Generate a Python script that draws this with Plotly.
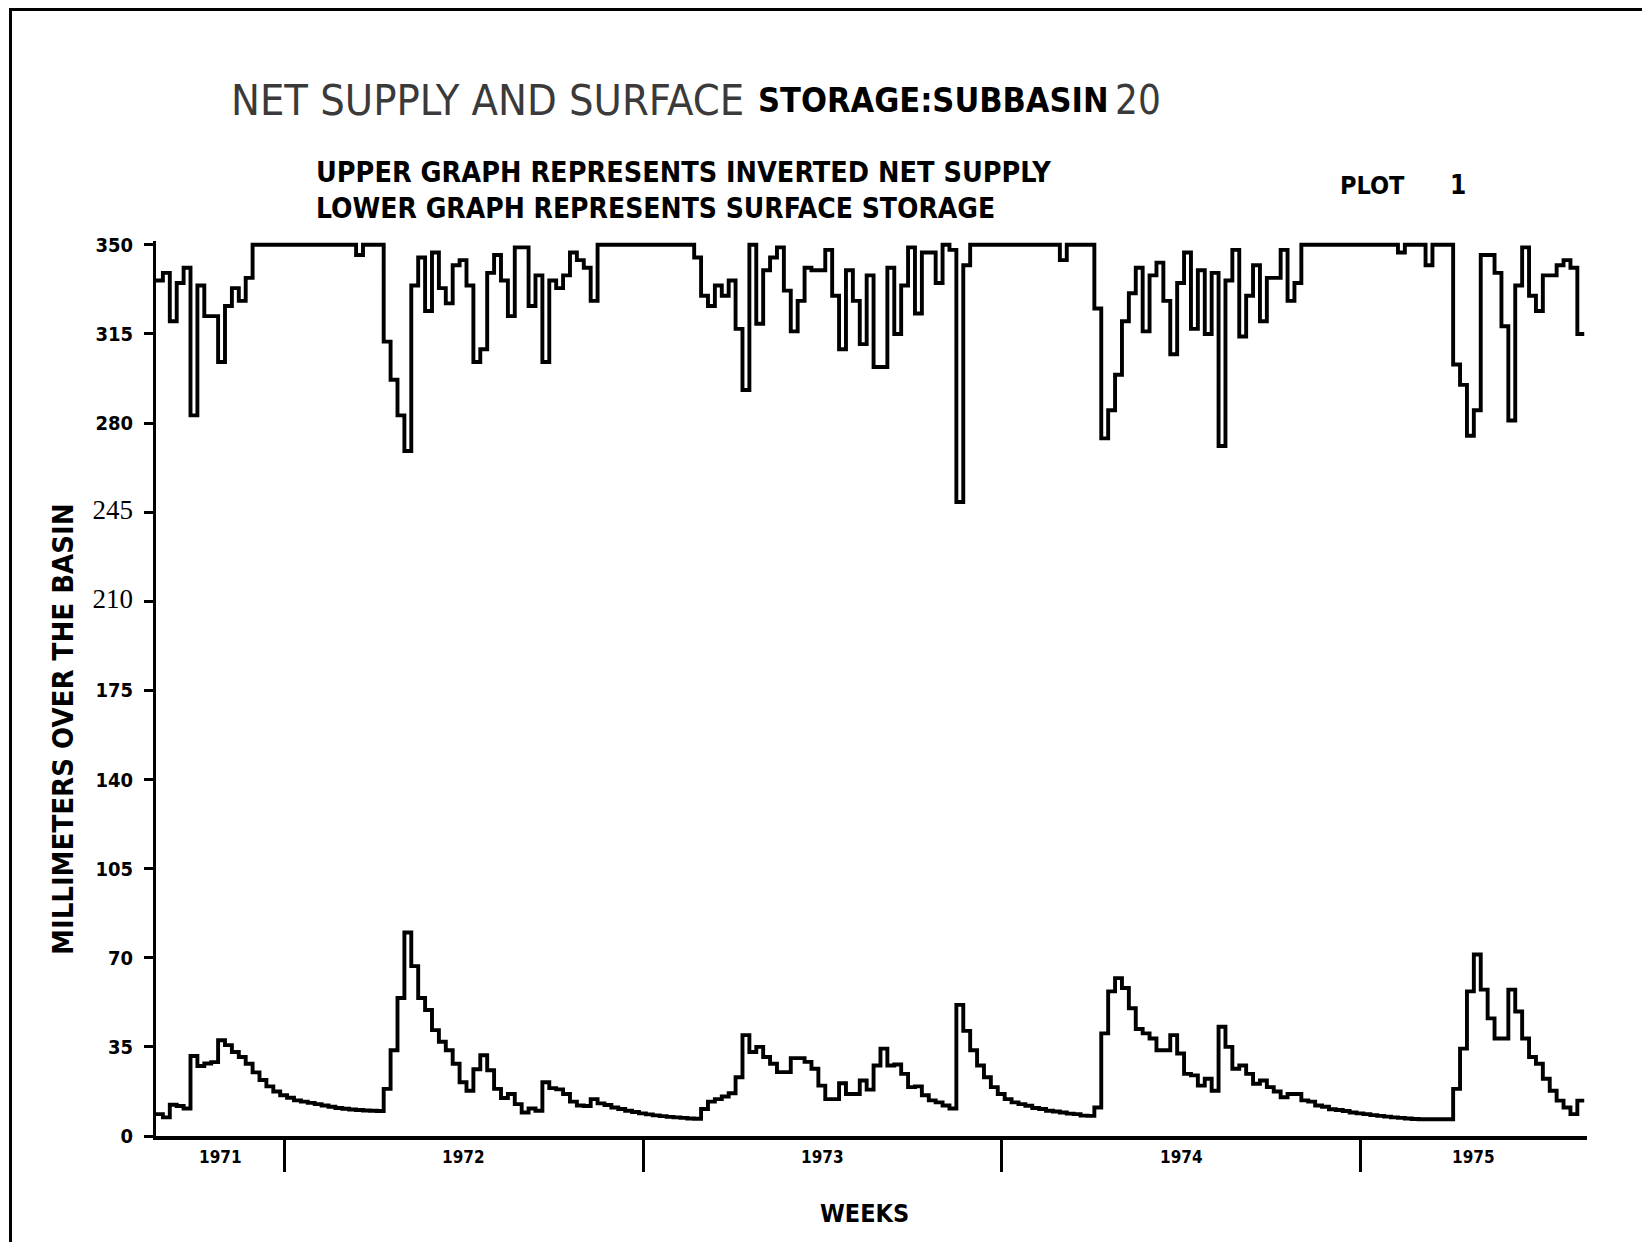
import plotly.graph_objects as go

# ---------------- data ----------------
weeks_before_1972 = 18.6     # weeks of 1971 shown before the 1972 boundary
weeks_per_year = 52          # the weekly axis counts 52 weeks to a year
n_weeks_shown = 207.4        # x-range length, in weeks

upper_inverted_net_supply = [
    336, 339, 320, 335, 341, 283, 334, 322, 322, 304,
    326, 333, 328, 337, 350, 350, 350, 350, 350, 350,
    350, 350, 350, 350, 350, 350, 350, 350, 350, 346,
    350, 350, 350, 312, 297, 283, 269, 334, 345, 324,
    347, 333, 327, 342, 344, 334, 304, 309, 339, 346,
    336, 322, 349, 349, 326, 338, 304, 336, 333, 338,
    347, 344, 341, 328, 350, 350, 350, 350, 350, 350,
    350, 350, 350, 350, 350, 350, 350, 350, 345, 330,
    326, 334, 330, 336, 317, 293, 350, 319, 340, 345,
    349, 332, 316, 328, 341, 340, 340, 348, 330, 309,
    340, 328, 311, 338, 302, 302, 341, 315, 334, 349,
    323, 347, 347, 335, 350, 348, 249, 342, 350, 350,
    350, 350, 350, 350, 350, 350, 350, 350, 350, 350,
    350, 344, 350, 350, 350, 350, 325, 274, 285, 299,
    320, 331, 341, 316, 338, 343, 328, 307, 335, 347,
    317, 340, 315, 339, 271, 336, 348, 314, 330, 342,
    320, 337, 337, 348, 328, 335, 350, 350, 350, 350,
    350, 350, 350, 350, 350, 350, 350, 350, 350, 350,
    347, 350, 350, 350, 342, 350, 350, 350, 303, 295,
    275, 285, 346, 346, 339, 318, 281, 334, 349, 330,
    324, 338, 338, 342, 344, 341, 315,
]

lower_surface_storage = [
    8.6, 7.3, 12.3, 11.8, 10.8, 31.4, 27.5, 28.5, 29.0, 37.6,
    35.7, 33.0, 31.0, 28.4, 25.0, 22.0, 19.5, 17.5, 16.0, 15.0,
    14.0, 13.5, 13.0, 12.5, 12.0, 11.5, 11.0, 10.7, 10.4, 10.2,
    10.0, 9.9, 9.8, 18.5, 33.7, 54.2, 79.9, 66.7, 54.2, 49.5,
    41.6, 37.0, 33.7, 28.4, 21.1, 17.8, 26.2, 31.7, 25.8, 18.5,
    14.9, 16.5, 12.5, 9.2, 10.8, 9.9, 21.1, 18.8, 18.3, 16.5,
    13.5, 12.0, 11.8, 14.5, 12.8, 12.2, 11.2, 10.6, 9.9, 9.4,
    8.9, 8.5, 8.1, 7.8, 7.5, 7.3, 7.1, 6.9, 6.8, 10.6,
    13.5, 14.5, 15.5, 16.8, 23.1, 39.6, 33.0, 35.0, 31.0, 28.4,
    25.1, 25.1, 30.6, 30.6, 29.1, 26.4, 19.8, 14.5, 14.5, 20.7,
    16.5, 16.5, 21.8, 18.2, 27.7, 34.3, 27.7, 28.1, 24.4, 19.2,
    19.5, 16.0, 14.0, 13.2, 12.0, 10.8, 51.5, 41.3, 33.7, 27.7,
    23.1, 19.2, 16.5, 14.5, 13.2, 12.5, 11.9, 11.0, 10.6, 9.9,
    9.6, 9.2, 8.8, 8.6, 8.0, 7.9, 11.2, 40.3, 56.8, 62.0,
    58.1, 50.2, 42.0, 40.3, 38.3, 33.7, 33.7, 39.6, 32.4, 24.4,
    23.8, 19.8, 22.5, 17.8, 42.9, 35.0, 26.4, 27.7, 24.4, 20.5,
    21.8, 19.2, 17.5, 15.2, 16.5, 16.5, 14.0, 13.5, 12.0, 11.5,
    10.5, 10.2, 9.8, 9.2, 8.9, 8.6, 8.2, 7.9, 7.6, 7.3,
    7.1, 6.9, 6.7, 6.6, 6.6, 6.6, 6.6, 6.6, 18.5, 34.3,
    56.8, 71.3, 57.5, 46.2, 38.3, 38.3, 57.5, 48.9, 38.3, 31.0,
    28.4, 22.5, 17.8, 13.9, 11.2, 8.6, 13.9,
]

y_tick_values = [0, 35, 70, 105, 140, 175, 210, 245, 280, 315, 350]
y_tick_labels = ["0", "35", "70", "105", "140", "175", "210", "245", "280", "315", "350"]
serif_tick_labels = {"245", "210"}
year_labels = ["1971", "1972", "1973", "1974", "1975"]

title_thin = "NET SUPPLY AND SURFACE"
title_bold = "STORAGE:SUBBASIN"
title_num = "20"
subtitle_1 = "UPPER GRAPH REPRESENTS INVERTED NET SUPPLY"
subtitle_2 = "LOWER GRAPH REPRESENTS SURFACE STORAGE"
plot_label = ["PLOT", "1"]
y_title = "MILLIMETERS OVER THE BASIN"
x_title = "WEEKS"

# ---------------- build ----------------
NARROW = "Liberation Sans Narrow, DejaVu Sans Condensed, Arial Narrow, sans-serif"
SERIF = "Liberation Serif, DejaVu Serif, serif"

n = len(upper_inverted_net_supply)
weeks = list(range(n))
x_steps = weeks + [n]


def closed(vals):
    return list(vals) + [vals[-1]]


fig = go.Figure()
for vals in (upper_inverted_net_supply, lower_surface_storage):
    fig.add_trace(go.Scatter(
        x=x_steps, y=closed(vals), mode="lines", line_shape="hv",
        line=dict(color="black", width=3.9), showlegend=False, hoverinfo="skip",
    ))

# year boundaries on the weekly axis
year_bounds = [weeks_before_1972 + weeks_per_year * k for k in range(len(year_labels) - 1)]
edges = [0] + year_bounds + [n_weeks_shown]

ticktext = []
for t in y_tick_labels:
    if t in serif_tick_labels:
        ticktext.append(f'<span style="font-family:{SERIF};font-weight:normal;font-size:27px">{t}</span>')
    else:
        ticktext.append(t)

# the page body adds an 8px offset; figure is sized so the page matches the reference frame
OFF = 8
W, H = 1650 - OFF, 1242 - OFF
L, R, T, B = 148, 63, 233, 106
pw, ph = W - L - R, H - T - B


def px(X):   # X in reference-page pixels
    return (X - OFF - L) / pw


def py(Y):   # Y in reference-page pixels
    return (H - B - (Y - OFF)) / ph


fig.update_layout(
    width=W, height=H, template="none",
    paper_bgcolor="white", plot_bgcolor="white",
    margin=dict(l=L, r=R, t=T, b=B, pad=0),
    xaxis=dict(
        range=[0, n_weeks_shown], showgrid=False, zeroline=False,
        showline=True, linecolor="black", linewidth=4,
        tickmode="array", tickvals=year_bounds, ticks="outside",
        ticklen=32, tickwidth=2.5, tickcolor="black", showticklabels=False,
    ),
    yaxis=dict(
        range=[0, 351.5], showgrid=False, zeroline=False,
        showline=True, linecolor="black", linewidth=3,
        tickmode="array", tickvals=y_tick_values, ticktext=ticktext,
        ticks="outside", ticklen=9, tickwidth=3, tickcolor="black",
        ticklabelstandoff=7,
        tickfont=dict(family=NARROW, size=20, color="black", weight="bold"),
    ),
)

ann = []
ann.append(dict(text=title_thin, x=px(229), y=py(100), xanchor="left", yanchor="middle",
                font=dict(family=NARROW, size=43, color="#3a3a3a", weight="normal")))
ann.append(dict(text=title_bold, x=px(756), y=py(100), xanchor="left", yanchor="middle",
                font=dict(family=NARROW, size=34, color="black", weight="bold")))
ann.append(dict(text=title_num, x=px(1113), y=py(100), xanchor="left", yanchor="middle",
                font=dict(family=NARROW, size=40, color="#3a3a3a", weight="normal")))
ann.append(dict(text=subtitle_1, x=px(314), y=py(172), xanchor="left", yanchor="middle",
                font=dict(family=NARROW, size=28.5, color="black", weight="bold")))
ann.append(dict(text=subtitle_2, x=px(314), y=py(208), xanchor="left", yanchor="middle",
                font=dict(family=NARROW, size=28, color="black", weight="bold")))
ann.append(dict(text=plot_label[0], x=px(1338), y=py(185), xanchor="left", yanchor="middle",
                font=dict(family=NARROW, size=25, color="black", weight="bold")))
ann.append(dict(text=plot_label[1], x=px(1458), y=py(185), xanchor="center", yanchor="middle",
                font=dict(family=NARROW, size=26, color="black", weight="bold")))
ann.append(dict(text=y_title, x=px(63), y=py(729), xanchor="center", yanchor="middle",
                textangle=-90,
                font=dict(family=NARROW, size=29, color="black", weight="bold")))
ann.append(dict(text=x_title, x=px(864), y=py(1213), xanchor="center", yanchor="middle",
                font=dict(family=NARROW, size=25, color="black", weight="bold")))

# year labels centred in the visible part of each year
for lab, a0, a1 in zip(year_labels, edges[:-1], edges[1:]):
    ann.append(dict(text=lab, x=(a0 + a1) / 2, xref="x", y=py(1157), yref="paper",
                    xanchor="center", yanchor="middle",
                    font=dict(family=NARROW, size=17, color="black", weight="bold")))

for a in ann:
    a.setdefault("xref", "paper")
    a.setdefault("yref", "paper")
    a["showarrow"] = False
fig.update_layout(annotations=ann)

# page frame (left, top, right)
top_y = (H - B - 1.5) / ph
fig.add_shape(type="path", xref="paper", yref="paper",
              path=f"M {px(10.5)} {py(1250)} L {px(10.5)} {top_y} L {px(1647)} {top_y} L {px(1647)} {py(1250)}",
              line=dict(color="black", width=3))

fig.write_html("out.html")
